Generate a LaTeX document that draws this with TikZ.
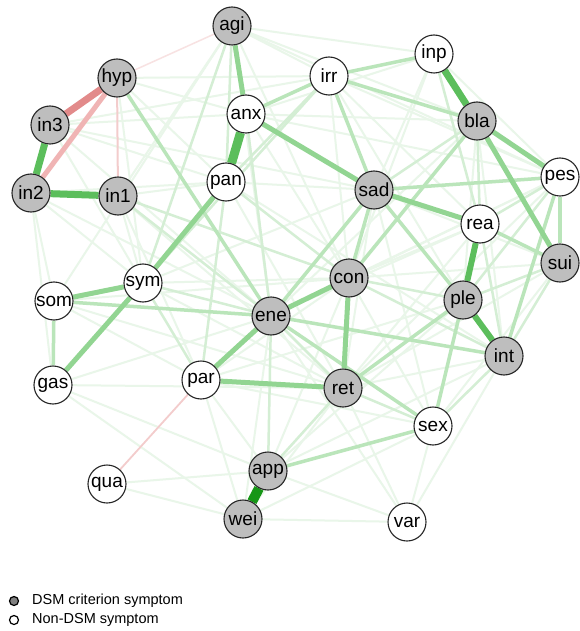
\documentclass[tikz,border=0pt]{standalone}
\usepackage{fontspec}
\setmainfont{Liberation Sans}
\usetikzlibrary{backgrounds}
\definecolor{dsmgray}{RGB}{190,190,190}
\definecolor{leggray}{RGB}{128,128,128}
\definecolor{eA}{RGB}{22,150,22}
\definecolor{eB}{RGB}{92,190,92}
\definecolor{eC}{RGB}{146,213,146}
\definecolor{eD}{RGB}{186,229,186}
\definecolor{eE}{RGB}{212,238,212}
\definecolor{eF}{RGB}{233,246,233}
\definecolor{rA}{RGB}{226,138,138}
\definecolor{rB}{RGB}{240,180,180}
\definecolor{rC}{RGB}{243,204,204}
\definecolor{rD}{RGB}{248,226,226}
\newcommand{\lab}{\fontsize{19}{19}\selectfont}
\newcommand{\leg}{\fontsize{14.5}{14.5}\selectfont}
\tikzset{
  nd/.style={circle, draw=black!85, line width=1.1pt, minimum size=38pt, inner sep=0pt, font=\lab},
  dsm/.style={nd, fill=dsmgray},
  non/.style={nd, fill=white},
  wA/.style={draw=eA, line width=10pt},
  wB/.style={draw=eB, line width=7pt},
  wC/.style={draw=eC, line width=5pt},
  wD/.style={draw=eD, line width=3.5pt},
  wE/.style={draw=eE, line width=2.5pt},
  wF/.style={draw=eF, line width=2pt},
  legdot/.style={circle, draw=black, line width=1.2pt, minimum size=9pt, inner sep=0pt},
  legtxt/.style={anchor=west, font=\leg, inner sep=0pt}
}
\begin{document}
\begin{tikzpicture}[x=1pt,y=-1pt]
\useasboundingbox (0,0) rectangle (580,631);
% nodes
\node[dsm] (agi) at (232,26) {agi};
\node[non] (inp) at (434,54) {inp};
\node[dsm] (hyp) at (117,78) {hyp};
\node[non] (irr) at (329,76) {irr};
\node[non] (anx) at (246,114) {anx};
\node[dsm] (bla) at (477,121) {bla};
\node[dsm] (in3) at (50,125) {in3};
\node[non] (pan) at (226,182) {pan};
\node[dsm] (sad) at (374,190) {sad};
\node[non] (pes) at (560,177) {pes};
\node[dsm] (in2) at (31,193) {in2};
\node[dsm] (in1) at (118,196) {in1};
\node[non] (rea) at (480,224) {rea};
\node[dsm] (sui) at (560,263) {sui};
\node[dsm] (con) at (349,278) {con};
\node[non] (sym) at (143,283) {sym};
\node[non] (som) at (54,301) {som};
\node[dsm] (ene) at (271,316) {ene};
\node[dsm] (ple) at (463,300) {ple};
\node[dsm] (int) at (504,356) {int};
\node[non] (gas) at (53,385) {gas};
\node[non] (par) at (201,380) {par};
\node[dsm] (ret) at (343,388) {ret};
\node[non] (sex) at (433,426) {sex};
\node[dsm] (app) at (268,471) {app};
\node[non] (qua) at (107,484) {qua};
\node[dsm] (wei) at (243,519) {wei};
\node[non] (var) at (407,522) {var};
% legend
\node[legdot, fill=leggray] (l1) at (14,601) {};
\node[legtxt] (t1) at (32,601) {DSM criterion symptom};
\node[legdot, fill=white] (l2) at (14,620) {};
\node[legtxt] (t2) at (32,620) {Non-DSM symptom};
\begin{pgfonlayer}{background}
\fill[white] (0,0) rectangle (580,631);
% very faint edges
\foreach \a/\b in {agi/inp,agi/bla,agi/irr,agi/pes,agi/con,agi/som,agi/in1,agi/ene,
  in3/pan,in3/anx,in3/sad,in3/sym,in3/ene,in3/irr,in2/som,in2/gas,in2/sym,in2/ene,in2/pan,
  in1/pan,in1/sym,in1/par,in1/ret,hyp/anx,hyp/pan,hyp/irr,hyp/sym,
  som/par,som/ret,som/con,gas/ene,gas/wei,gas/ret,gas/app,qua/app,qua/wei,
  sym/con,sym/ret,sym/sad,pan/sad,pan/irr,pan/ret,pan/int,
  anx/inp,anx/bla,anx/pes,anx/con,anx/ene,irr/con,irr/ple,irr/pes,irr/rea,
  inp/pes,inp/sad,inp/con,bla/ple,bla/int,bla/ene,sad/sex,sad/ret,sad/sui,
  pes/ret,pes/ene,pes/con,rea/ret,rea/con,rea/ene,sui/ret,sui/sex,sui/con,
  con/sex,con/app,con/par,ple/par,ple/app,int/app,int/var,int/ret,
  par/app,par/wei,par/sex,ret/var,app/var,wei/var,sex/var,ene/wei,ene/var,wei/sex,wei/ret}
  \draw[wF] (\a) -- (\b);
% faint edges
\foreach \a/\b in {agi/pan,agi/sym,in1/con,in1/ene,sym/par,sym/ene,pan/con,pan/par,
  anx/ene,irr/pan,irr/sym,inp/rea,bla/rea,bla/sad,pes/rea,pes/ple,sui/ple,sui/int,
  rea/int,con/int,con/ple,ene/ret,ene/app,int/sex,ret/sex,ret/app,in2/hyp}
  \draw[wE] (\a) -- (\b);
% light-medium edges
\foreach \a/\b in {som/gas,pes/sui,irr/inp,anx/irr,ene/int,ene/sex,som/ene,sad/irr,
  sad/ple,sad/pes,sad/con,ret/ple,sad/ene,hyp/ene,ple/sex,sex/app,irr/bla,bla/con,
  pes/int,rea/sui}
  \draw[wD] (\a) -- (\b);
% medium edges
\foreach \a/\b in {pan/sym,sym/som,ene/par,ene/con,con/ret,sad/rea,sym/gas,agi/anx,
  bla/sui,bla/pes,par/ret,sad/anx}
  \draw[wC] (\a) -- (\b);
% negative edges
\draw[draw=rD, line width=1.5pt] (agi) -- (hyp);
\draw[draw=rC, line width=2pt] (hyp) -- (in1);
\draw[draw=rC, line width=1.8pt] (par) -- (qua);
\draw[draw=rB, line width=5pt] (hyp) -- (in2);
\draw[draw=rA, line width=7pt] (hyp) -- (in3);
% strong edges
\draw[wB, line width=9pt] (anx) -- (pan);
\draw[wB] (inp) -- (bla);
\draw[wB] (in3) -- (in2);
\draw[wB] (in2) -- (in1);
\draw[wB, line width=6pt] (rea) -- (ple);
\draw[wB, line width=6pt] (ple) -- (int);
\draw[wA] (app) -- (wei);
\end{pgfonlayer}
\end{tikzpicture}
\end{document}
